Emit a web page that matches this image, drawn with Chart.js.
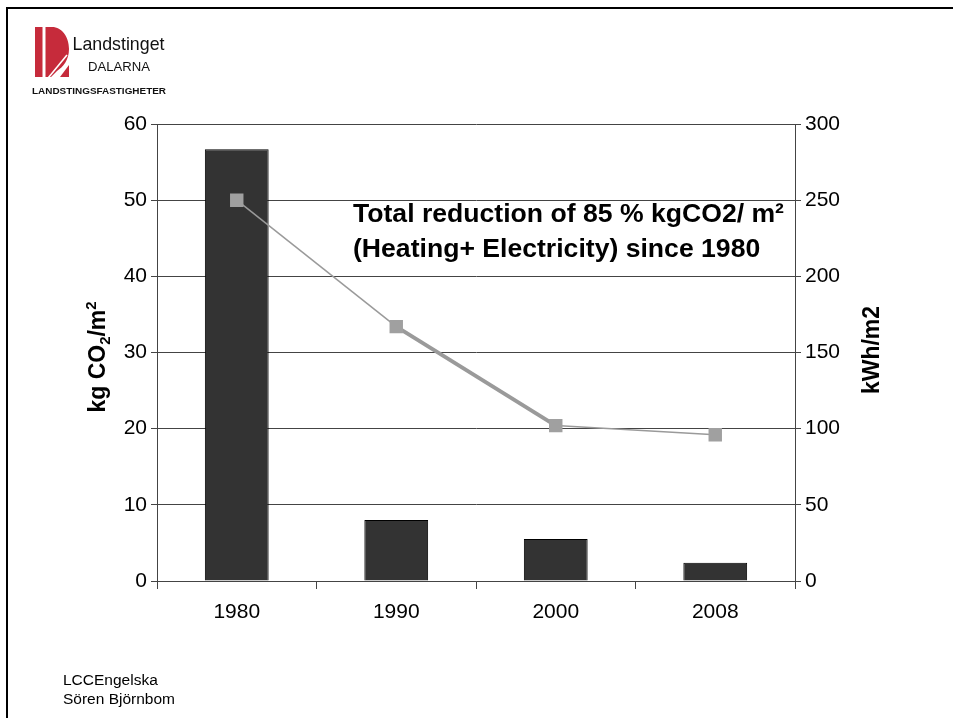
<!DOCTYPE html>
<html>
<head>
<meta charset="utf-8">
<title>kg CO2/m2 och kWh/m2</title>
<script src="https://cdn.jsdelivr.net/npm/chart.js@4/dist/chart.umd.min.js"></script>
<style>
  html, body { margin: 0; padding: 0; background: #fff; }
  #wrap { position: relative; width: 953px; height: 718px; overflow: hidden; }
  #chart { position: absolute; left: 0; top: 0; }
  .frameTop { position: absolute; left: 6px; top: 7px; width: 947px; height: 2px; background: #000; }
  .frameLeft { position: absolute; left: 6px; top: 7px; width: 2px; height: 711px; background: #000; }
  #logo { position: absolute; left: 0; top: 0; }
  #footer { position: absolute; left: 63px; top: 670px; font: 15.5px "Liberation Sans", Arial, sans-serif; line-height: 19px; color: #000; }
</style>
</head>
<body>
<div id="wrap">
  <canvas id="chart" width="953" height="718"></canvas>
  <div class="frameTop"></div>
  <div class="frameLeft"></div>
  <svg id="logo" width="200" height="110" xmlns="http://www.w3.org/2000/svg">
    <rect x="35" y="27" width="7.5" height="50" fill="#C62B3B"/>
    <path d="M45.5,27 H52 C62,27 69,37 69,49 C69,60 63,67 57,71 L51,77 H45.5 Z" fill="#C62B3B"/>
    <path d="M60,77 L69,65 L69,77 Z" fill="#C62B3B"/>
    <line x1="48.5" y1="77.5" x2="67" y2="55" stroke="#fff" stroke-width="1.6"/>
    <text x="72.5" y="50" font-family="Liberation Sans, Arial, sans-serif" font-size="19" textLength="92" lengthAdjust="spacingAndGlyphs" fill="#111">Landstinget</text>
    <text x="88" y="71" font-family="Liberation Sans, Arial, sans-serif" font-size="13" textLength="62" lengthAdjust="spacingAndGlyphs" fill="#111">DALARNA</text>
    <text x="32" y="94" font-family="Liberation Sans, Arial, sans-serif" font-size="9.5" font-weight="bold" textLength="134" lengthAdjust="spacingAndGlyphs" fill="#111">LANDSTINGSFASTIGHETER</text>
  </svg>
  <div id="footer">LCCEngelska<br>Sören Björnbom</div>
</div>
<script>
// Years shown on the category axis
const years = ['1980', '1990', '2000', '2008'];
// Emissions per square metre, kg CO2/m2 (bars, left axis)
const co2PerM2 = [56.7, 8.0, 5.5, 2.4];
// Energy use per square metre, kWh/m2 (line, right axis)
const kwhPerM2 = [250, 167, 102, 96];
// Axis ranges
const leftTicks = { min: 0, max: 60, step: 10 };
const rightTicks = { min: 0, max: 300, step: 50 };
// Caption lines placed inside the plot
const captionLines = ['Total reduction of 85 % kgCO2/ m\u00B2', '(Heating+ Electricity) since 1980'];

const FONT = '"Liberation Sans", Arial, Helvetica, sans-serif';

// Axis titles and the caption, drawn with sub/superscripts
const textPlugin = {
  id: 'slideText',
  afterDraw(chart) {
    const ctx = chart.ctx;
    const S = 23;
    const drawRuns = (runs) => {
      let total = 0;
      runs.forEach(r => {
        ctx.font = 'bold ' + (S * r.scale) + 'px ' + FONT;
        r.w = ctx.measureText(r.t).width;
        total += r.w;
      });
      let x = -total / 2;
      runs.forEach(r => {
        ctx.font = 'bold ' + (S * r.scale) + 'px ' + FONT;
        ctx.fillText(r.t, x, r.dy * S);
        x += r.w;
      });
    };
    ctx.save();
    ctx.fillStyle = '#000';
    ctx.textBaseline = 'alphabetic';
    ctx.textAlign = 'left';

    // left axis title: kg CO2/m2
    ctx.save();
    ctx.translate(105, 357);
    ctx.rotate(-Math.PI / 2);
    drawRuns([
      { t: 'kg CO', scale: 1, dy: 0 },
      { t: '2', scale: 0.65, dy: 0.2 },
      { t: '/m', scale: 1, dy: 0 },
      { t: '2', scale: 0.65, dy: -0.38 }
    ]);
    ctx.restore();

    // right axis title: kWh/m2
    ctx.save();
    ctx.translate(879, 350);
    ctx.rotate(-Math.PI / 2);
    drawRuns([{ t: 'kWh/m2', scale: 1, dy: 0 }]);
    ctx.restore();

    // caption
    ctx.font = 'bold 26.6px ' + FONT;
    ctx.fillText(captionLines[0], 353, 222);
    ctx.fillText(captionLines[1], 353, 257);
    ctx.restore();
  }
};

new Chart(document.getElementById('chart'), {
  data: {
    labels: years,
    datasets: [
      {
        type: 'line',
        label: 'kWh/m2',
        data: kwhPerM2,
        yAxisID: 'y1',
        order: 0,
        borderColor: '#9a9a9a',
        borderWidth: 1.5,
        segment: {
          borderWidth: c => (c.p0DataIndex === 1 ? 4 : 1.5)
        },
        pointStyle: 'rect',
        pointRadius: 9.5,
        pointBackgroundColor: '#a0a0a0',
        pointBorderColor: '#a0a0a0',
        pointBorderWidth: 0,
        tension: 0
      },
      {
        type: 'bar',
        label: 'kg CO2/m2',
        data: co2PerM2,
        yAxisID: 'y',
        order: 1,
        backgroundColor: '#333333',
        borderColor: '#000000',
        borderWidth: 1,
        borderSkipped: 'bottom',
        barPercentage: 0.4,
        categoryPercentage: 1.0
      }
    ]
  },
  options: {
    responsive: false,
    animation: false,
    devicePixelRatio: 1,
    layout: { padding: { left: 0, right: 0, top: 124, bottom: 0 } },
    plugins: {
      legend: { display: false },
      tooltip: { enabled: false }
    },
    scales: {
      x: {
        offset: true,
        grid: {
          offset: true,
          drawOnChartArea: false,
          drawTicks: true,
          tickLength: 8,
          color: '#444'
        },
        border: { display: true, color: '#444', width: 1 },
        ticks: { color: '#000', font: { family: FONT, size: 21 }, padding: 11 },
        afterFit(s) { s.height = 137; }
      },
      y: {
        position: 'left',
        min: leftTicks.min,
        max: leftTicks.max,
        ticks: { stepSize: leftTicks.step, color: '#000', font: { family: FONT, size: 21 }, padding: 4 },
        grid: { color: '#444', lineWidth: 1, drawTicks: true, tickLength: 6 },
        border: { display: true, color: '#444', width: 1 },
        afterFit(s) { s.width = 157; }
      },
      y1: {
        position: 'right',
        min: rightTicks.min,
        max: rightTicks.max,
        ticks: { stepSize: rightTicks.step, color: '#000', font: { family: FONT, size: 21 }, padding: 4 },
        grid: { drawOnChartArea: false, color: '#444', drawTicks: true, tickLength: 6 },
        border: { display: true, color: '#444', width: 1 },
        afterFit(s) { s.width = 158; }
      }
    }
  },
  plugins: [textPlugin]
});
</script>
</body>
</html>
